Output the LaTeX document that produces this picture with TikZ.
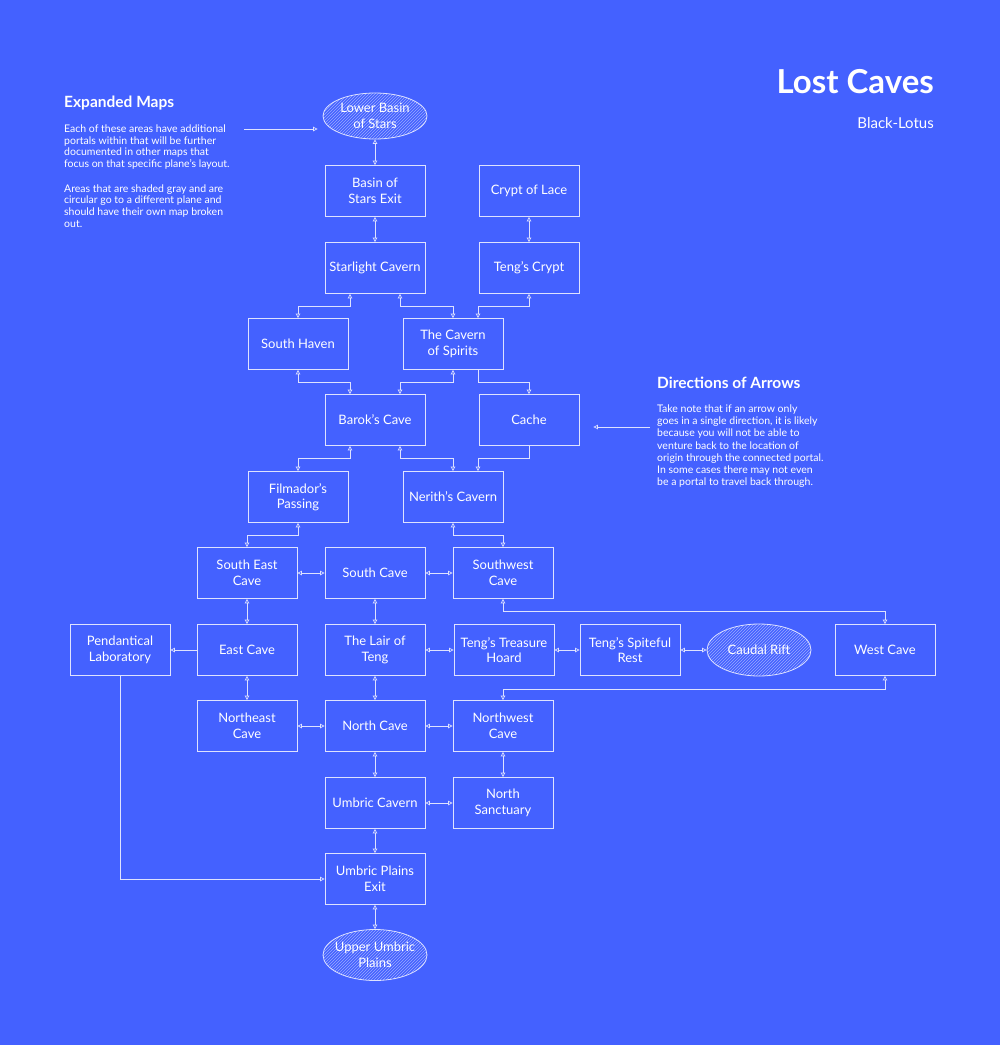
\documentclass[tikz,border=0pt]{standalone}
\usepackage{fontspec}
\setmainfont{Lato}
\usetikzlibrary{arrows.meta,patterns,shapes.geometric}
\definecolor{bg}{RGB}{68,97,255}
\definecolor{ink}{RGB}{222,226,255}
\definecolor{hatch}{RGB}{155,170,255}
\begin{document}
\begin{tikzpicture}[x=1pt,y=-1pt,
  >={Triangle[open,length=4.5pt,width=4.5pt]},
  room/.style={draw=ink, line width=0.8pt, minimum width=100pt, minimum height=51pt,
    inner sep=2pt, align=center, text=white, font=\fontsize{13}{15.5}\selectfont},
  portal/.style={ellipse, draw=ink, line width=0.8pt, pattern=north east lines,
    pattern color=hatch, minimum width=104pt, minimum height=48pt, inner sep=0pt},
  ptext/.style={text=white, align=center, inner sep=0pt, font=\fontsize{13}{15.5}\selectfont},
  conn/.style={draw=ink, line width=0.7pt},
  both/.style={conn, <->},
  one/.style={conn, ->},
  head/.style={anchor=base west, inner sep=0pt, text=white, font=\fontsize{15.5}{18}\selectfont\bfseries},
  body/.style={anchor=base west, inner sep=0pt, text=white, font=\fontsize{10.5}{12}\selectfont}
]
\fill[bg] (0,0) rectangle (1000,1045);
\useasboundingbox (0,0) rectangle (1000,1045);

% title
\node[anchor=base east, inner sep=0pt, text=white, font=\fontsize{33}{36}\selectfont\bfseries] (title) at (934,93) {Lost Caves};
\node[anchor=base east, inner sep=0pt, text=white, font=\fontsize{15}{17}\selectfont] (author) at (934,128) {Black-Lotus};

% notes left
\node[head] (h1) at (64,107) {Expanded Maps};
\node[body] (a1) at (64,132) {Each of these areas have additional};
\node[body] (a2) at (64,144) {portals within that will be further};
\node[body] (a3) at (64,155.5) {documented in other maps that};
\node[body] (a4) at (64,167) {focus on that specific plane's layout.};
\node[body] (a5) at (64,192) {Areas that are shaded gray and are};
\node[body] (a6) at (64,203.5) {circular go to a different plane and};
\node[body] (a7) at (64,215) {should have their own map broken};
\node[body] (a8) at (64,227) {out.};

% notes right
\node[head] (h2) at (657,388) {Directions of Arrows};
\node[body] (b1) at (657,412) {Take note that if an arrow only};
\node[body] (b2) at (657,424) {goes in a single direction, it is likely};
\node[body] (b3) at (657,436.5) {because you will not be able to};
\node[body] (b4) at (657,449) {venture back to the location of};
\node[body] (b5) at (657,461) {origin through the connected portal.};
\node[body] (b6) at (657,473) {In some cases there may not even};
\node[body] (b7) at (657,485.5) {be a portal to travel back through.};

% rooms
\node[portal, minimum height=46pt] (lb) at (375,116) {};
\node[ptext] (lbt) at (lb) {Lower Basin\\of Stars};
\node[room] (bse) at (375,191) {Basin of\\Stars Exit};
\node[room] (lace) at (529,191) {Crypt of Lace};
\node[room] (star) at (375,268) {Starlight Cavern};
\node[room] (tcrypt) at (529,268) {Teng's Crypt};
\node[room] (shaven) at (298,344) {South Haven};
\node[room] (spirits) at (453,344) {The Cavern\\of Spirits};
\node[room] (barok) at (375,420) {Barok's Cave};
\node[room] (cache) at (529,420) {Cache};
\node[room] (film) at (298,497) {Filmador's\\Passing};
\node[room] (nerith) at (453,497) {Nerith's Cavern};
\node[room] (se) at (247,573) {South East\\Cave};
\node[room] (south) at (375,573) {South Cave};
\node[room] (sw) at (503,573) {Southwest\\Cave};
\node[room] (pend) at (120,650) {Pendantical\\Laboratory};
\node[room] (east) at (247,650) {East Cave};
\node[room] (lair) at (375,650) {The Lair of\\Teng};
\node[room] (hoard) at (504,650) {Teng's Treasure\\Hoard};
\node[room] (spite) at (630,650) {Teng's Spiteful\\Rest};
\node[portal, minimum height=52pt] (rift) at (759,650) {};
\node[ptext] (riftt) at (rift) {Caudal Rift};
\node[room] (west) at (885,650) {West Cave};
\node[room] (ne) at (247,726) {Northeast\\Cave};
\node[room] (north) at (375,726) {North Cave};
\node[room] (nw) at (503,726) {Northwest\\Cave};
\node[room] (umb) at (375,803) {Umbric Cavern};
\node[room] (sanct) at (503,803) {North\\Sanctuary};
\node[room] (exit) at (375,879) {Umbric Plains\\Exit};
\node[portal, minimum height=51pt] (upper) at (375,955) {};
\node[ptext] (uppert) at (upper) {Upper Umbric\\Plains};

% straight connectors
\draw[both] (lb) -- (bse);
\draw[both] (bse) -- (star);
\draw[both] (lace) -- (tcrypt);
\draw[both] (se) -- (south);
\draw[both] (south) -- (sw);
\draw[both] (se) -- (east);
\draw[both] (south) -- (lair);
\draw[one] (east) -- (pend);
\draw[both] (lair) -- (hoard);
\draw[both] (hoard) -- (spite);
\draw[both] (spite) -- (rift);
\draw[both] (east) -- (ne);
\draw[both] (lair) -- (north);
\draw[both] (ne) -- (north);
\draw[both] (north) -- (nw);
\draw[both] (north) -- (umb);
\draw[both] (nw) -- (sanct);
\draw[both] (umb) -- (sanct);
\draw[both] (umb) -- (exit);
\draw[both] (exit) -- (upper);

% elbow connectors
\draw[both] ([xshift=-25pt]star.south) -- ++(0,12) -| (shaven.north);
\draw[both] ([xshift=25pt]star.south) -- ++(0,12) -| (spirits.north);
\draw[both] (tcrypt.south) -- ++(0,12) -| ([xshift=25pt]spirits.north);
\draw[both] (shaven.south) -- ++(0,12) -| ([xshift=-25pt]barok.north);
\draw[both] (spirits.south) -- ++(0,12) -| ([xshift=25pt]barok.north);
\draw[one] ([xshift=25pt]spirits.south) -- ++(0,12) -| (cache.north);
\draw[both] ([xshift=-25pt]barok.south) -- ++(0,12) -| (film.north);
\draw[both] ([xshift=25pt]barok.south) -- ++(0,12) -| (nerith.north);
\draw[one] (cache.south) -- ++(0,12) -| ([xshift=25pt]nerith.north);
\draw[both] (film.south) -- ++(0,12) -| (se.north);
\draw[both] (nerith.south) -- ++(0,12) -| (sw.north);
\draw[both] (sw.south) -- ++(0,12) -| (west.north);
\draw[both] (west.south) -- ++(0,13) -| (nw.north);
\draw[one] (pend.south) |- (exit.west);

% note arrows
\coordinate (n1) at (244,129);
\draw[one, shorten >=5pt] (n1) -- (n1 -| lb.west);
\coordinate (n2) at (650,427);
\draw[one, shorten >=14pt] (n2) -- (n2 -| cache.east);
\end{tikzpicture}
\end{document}
